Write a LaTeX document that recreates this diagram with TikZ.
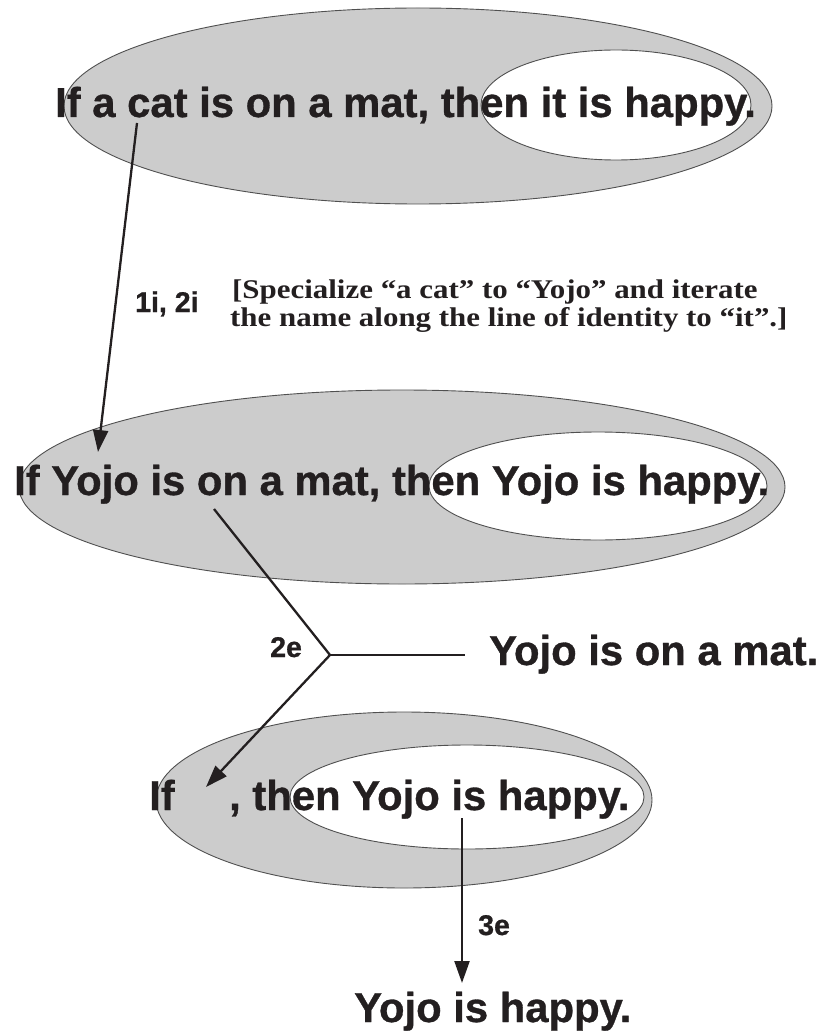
\documentclass[tikz,border=0pt]{standalone}
\usepackage{graphicx}
\usepackage{fontspec}
\setmainfont{Liberation Sans}
\newfontfamily\heavy{Liberation Sans}[UprightFont={* Bold}, FakeBold=0.8]
\newfontfamily\tnr{Liberation Serif}
\usetikzlibrary{arrows.meta}
\definecolor{ink}{RGB}{35,31,32}
\definecolor{shade}{RGB}{204,204,204}
\definecolor{rim}{RGB}{80,80,80}
\begin{document}
\begin{tikzpicture}[x=1pt,y=-1pt,
  outer/.style={draw=rim, line width=0.9pt, fill=shade},
  inner/.style={draw=rim, line width=0.9pt, fill=white},
  big/.style={anchor=base west, inner sep=0pt, text=ink, font=\heavy\fontsize{41.8}{49}\selectfont},
  small/.style={anchor=base west, inner sep=0pt, text=ink, font=\heavy\fontsize{28.5}{33}\selectfont},
  note/.style={anchor=base west, inner sep=0pt, text=ink, font=\tnr\fontsize{27}{28}\selectfont\bfseries},
  link/.style={draw=ink, line width=2.3pt},
  arr/.style={link, -{Triangle[length=22pt,width=15pt]}}]
\useasboundingbox (0,0) rectangle (817,1032);
\fill[white] (0,0) rectangle (817,1032);

% ellipses
\draw[outer] (418,106) ellipse [x radius=354pt, y radius=98pt];
\draw[inner] (616,105) ellipse [x radius=135pt, y radius=55pt];
\draw[outer] (402,487) ellipse [x radius=383pt, y radius=97pt];
\draw[inner] (598,486) ellipse [x radius=169pt, y radius=54pt];
\draw[outer] (404,800) ellipse [x radius=248pt, y radius=88pt];
\draw[inner] (467,797) ellipse [x radius=177pt, y radius=52pt];

% texts
\node[big] (t1) at (55,117) {If a cat is on a mat, then it is happy.};
\node[small] (lab1) at (135,312) {1i, 2i};
\node[note] (note1) at (232,298) {\scalebox{1.145}[1]{[Specialize “a cat” to “Yojo” and iterate}};
\node[note] (note2) at (230,326) {\scalebox{1.145}[1]{the name along the line of identity to “it”.]}};
\node[big] (t2) at (14,495) {If Yojo is on a mat, then Yojo is happy.};
\node[small] (lab2) at (270,657) {2e};
\node[big] (t4) at (489,665) {Yojo is on a mat.};
\node[big] (t3a) at (149,810) {If};
\node[big] (t3b) at (229,810) {, then Yojo is happy.};
\node[small] (lab3) at (478,935) {3e};
\node[big] (t5) at (354,1022) {Yojo is happy.};

% connector points
\coordinate (c1s) at (137,123);
\coordinate (c1e) at (98,452);
\coordinate (c2s) at (214,509);
\coordinate (j) at (330,655);
\coordinate (c2e) at (206,787);
\coordinate (c3s) at (462,818);
\coordinate (c3e) at (462,983);

\draw[arr] (c1s) -- (c1e);
\draw[link] (c2s) -- (j);
\draw[link, shorten >=24pt] (j) -- (j -| t4.west);
\draw[arr] (j) -- (c2e);
\draw[arr] (c3s) -- (c3e);
\end{tikzpicture}
\end{document}
